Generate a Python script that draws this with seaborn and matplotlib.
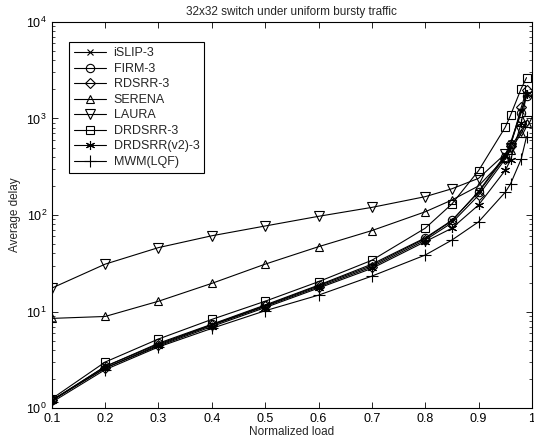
import matplotlib
matplotlib.use("Agg")
import matplotlib.pyplot as plt
import seaborn as sns
import numpy as np
from matplotlib.ticker import LogLocator, FixedLocator

sns.set_style("ticks")
plt.rcParams['font.family'] = ['Liberation Sans', 'DejaVu Sans']
plt.rcParams['mathtext.fontset'] = 'custom'
plt.rcParams['mathtext.rm'] = 'Liberation Sans'

load = [0.1, 0.2, 0.3, 0.4, 0.5, 0.6, 0.7, 0.8, 0.85, 0.9, 0.95, 0.96, 0.98, 0.99]

islip3 = [1.2, 2.7, 4.6, 7.3, 11.5, 18.5, 30, 57, 87, 175, 420, 560, 1200, 1750]
firm3 = [1.2, 2.7, 4.7, 7.4, 11.7, 18.8, 31, 58, 88, 172, 400, 540, 1150, 1700]
rdsrr3 = [1.2, 2.6, 4.5, 7.2, 11.3, 18.0, 29, 55, 83, 160, 380, 520, 1300, 1950]
serena = [8.5, 8.9, 12.8, 19.6, 31, 47, 69, 108, 143, 200, 390, 470, 700, 900]
laura = [17.5, 31, 46, 61, 77, 97, 120, 155, 187, 240, 430, 500, 750, 950]
drdsrr3 = [1.25, 3.0, 5.2, 8.3, 12.8, 20.4, 34, 73, 130, 288, 810, 1080, 2040, 2650]
drdsrr_v2_3 = [1.2, 2.6, 4.4, 7.0, 11.0, 17.5, 28, 53, 73, 127, 290, 370, 900, 1800]
mwm_lqf = [1.15, 2.5, 4.3, 6.7, 10.2, 14.8, 23.3, 38.5, 55, 85, 172, 210, 380, 650]

names = ["iSLIP-3", "FIRM-3", "RDSRR-3", "SERENA", "LAURA", "DRDSRR-3", "DRDSRR(v2)-3", "MWM(LQF)"]
series = [islip3, firm3, rdsrr3, serena, laura, drdsrr3, drdsrr_v2_3, mwm_lqf]
markers = ["x", "o", "D", "^", "v", "s", (6, 2, 0), "+"]
msizes = [4, 6, 5, 6, 6.5, 6, 6.5, 8]

fig = plt.figure(figsize=(5.34, 4.48), dpi=100)
ax = fig.add_axes([0.097, 0.089, 0.899, 0.862])

for name, vals, m, ms in zip(names, series, markers, msizes):
    sns.lineplot(x=load, y=vals, ax=ax, color="black", linewidth=0.8,
                 marker=m, markersize=ms, markerfacecolor="none",
                 markeredgecolor="black", markeredgewidth=0.8, label=name)

ax.set_yscale("log")
ax.set_xlim(0.1, 1.0)
ax.set_ylim(1, 1e4)
ax.xaxis.set_major_locator(FixedLocator([0.1, 0.2, 0.3, 0.4, 0.5, 0.6, 0.7, 0.8, 0.9, 1.0]))
ax.set_xticklabels(["0.1", "0.2", "0.3", "0.4", "0.5", "0.6", "0.7", "0.8", "0.9", "1"])
ax.yaxis.set_major_locator(LogLocator(base=10, numticks=10))
ax.yaxis.set_minor_locator(LogLocator(base=10, subs=np.arange(2, 10), numticks=10))

ax.tick_params(axis="both", which="both", direction="in", top=True, right=True,
               labelsize=9, colors="black")
ax.tick_params(which="major", length=4, width=0.6)
ax.tick_params(which="minor", length=2, width=0.5)
for s in ax.spines.values():
    s.set_linewidth(0.8)
    s.set_color("black")

ax.set_xlabel("Normalized load", fontsize=8.5, labelpad=1)
ax.set_ylabel("Average delay", fontsize=8.5, labelpad=4)
ax.set_title("32x32 switch under uniform bursty traffic", fontsize=8.5, pad=5)

leg = ax.legend(loc="upper left", bbox_to_anchor=(0.022, 0.963), fontsize=9,
                frameon=True, fancybox=False, edgecolor="black", framealpha=1,
                handlelength=2.6, labelspacing=0.28, borderpad=0.4, handletextpad=0.6)
leg.get_frame().set_linewidth(0.8)

fig.savefig("out.png", dpi=100)
